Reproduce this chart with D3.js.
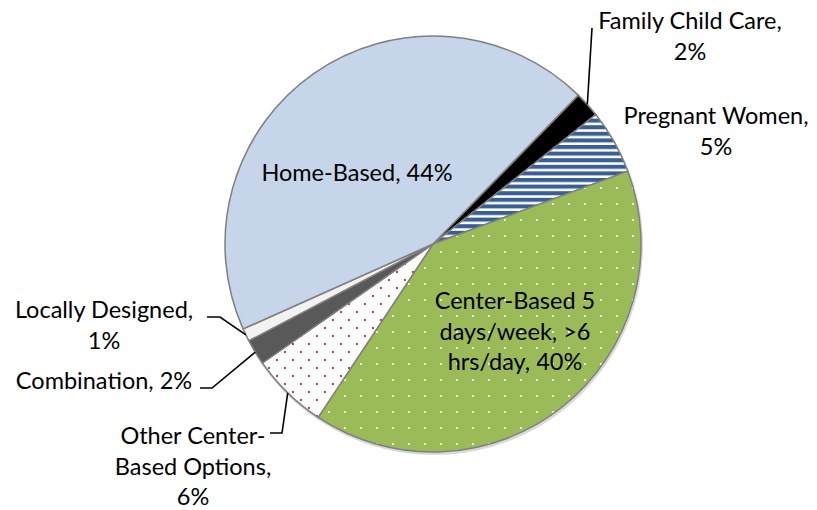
<!DOCTYPE html>
<html>
<head>
<meta charset="utf-8">
<script src="https://cdn.jsdelivr.net/npm/d3@7"></script>
<style>
  body { margin: 0; background: #fff; }
  svg text { font-family: Lato, "Open Sans", sans-serif; fill: #000; }
</style>
</head>
<body>
<div id="chart"></div>
<script>
// data, clockwise from the black slice
var categories = ["Family Child Care", "Pregnant Women", "Center-Based 5 days/week, >6 hrs/day",
  "Other Center-Based Options", "Combination", "Locally Designed", "Home-Based"]
var values = [2, 5, 40, 6, 2, 1, 44]

var width = 817, height = 510
var cx = 433, cy = 244, radius = 208
var startDeg = 44.3

var fills = ["#000000", "url(#stripes)", "url(#greenDots)", "url(#redDots)", "#595959", "#f2f2f2", "#c6d5e9"]

// label lines and placement (layout only)
var labelLayout = [
  { lines: ["Family Child Care,", "2%"], x: 690, y: 21, leader: [[592, 28]] },
  { lines: ["Pregnant Women,", "5%"], x: 716, y: 116 },
  { lines: ["Center-Based 5", "days/week, >6", "hrs/day, 40%"], x: 515, y: 301 },
  { lines: ["Other Center-", "Based Options,", "6%"], x: 193, y: 436, leader: [[282, 433], [270, 433]] },
  { lines: ["Combination, 2%"], x: 104, y: 381, leader: [[212, 388], [200, 388]] },
  { lines: ["Locally Designed,", "1%"], x: 104, y: 310, leader: [[220, 317], [207, 317]] },
  { lines: ["Home-Based, 44%"], x: 357, y: 173 }
]
var lineHeight = 30.5

var svg = d3.select("#chart").append("svg")
  .attr("width", width)
  .attr("height", height)

var defs = svg.append("defs")

var stripes = defs.append("pattern")
  .attr("id", "stripes")
  .attr("patternUnits", "userSpaceOnUse")
  .attr("width", 8).attr("height", 6.6)
stripes.append("rect").attr("width", 8).attr("height", 6.6).attr("fill", "#ffffff")
stripes.append("rect").attr("y", 0).attr("width", 8).attr("height", 3.8).attr("fill", "#3a5f95")
stripes.append("rect").attr("y", 3.8).attr("width", 8).attr("height", 0.8).attr("fill", "#b9c6da")

var green = defs.append("pattern")
  .attr("id", "greenDots")
  .attr("patternUnits", "userSpaceOnUse")
  .attr("width", 16).attr("height", 16)
green.append("rect").attr("width", 16).attr("height", 16).attr("fill", "#9bbb59")
green.append("rect").attr("x", 7).attr("y", 7).attr("width", 2).attr("height", 2).attr("fill", "#e4edd6")

var red = defs.append("pattern")
  .attr("id", "redDots")
  .attr("patternUnits", "userSpaceOnUse")
  .attr("width", 16).attr("height", 16)
red.append("rect").attr("width", 16).attr("height", 16).attr("fill", "#ffffff")
red.append("rect").attr("x", 3).attr("y", 3).attr("width", 2).attr("height", 2).attr("fill", "#b8463f")
red.append("rect").attr("x", 11).attr("y", 11).attr("width", 2).attr("height", 2).attr("fill", "#b8463f")

var pie = d3.pie()
  .sort(null)
  .value(function (d) { return d })
  .startAngle(startDeg * Math.PI / 180)
  .endAngle(startDeg * Math.PI / 180 + 2 * Math.PI)

var arc = d3.arc().innerRadius(0).outerRadius(radius)
var edgeArc = d3.arc().innerRadius(radius).outerRadius(radius)

var arcs = pie(values)

var g = svg.append("g").attr("transform", "translate(" + cx + "," + cy + ")")

// soft shadow under the disc
g.append("circle")
  .attr("cx", 1).attr("cy", 2)
  .attr("r", radius + 1)
  .attr("fill", "#d9d9d9")

g.selectAll(".slice")
  .data(arcs)
  .enter().append("path")
  .attr("class", "slice")
  .attr("d", arc)
  .attr("fill", function (d, i) { return fills[i] })
  .attr("stroke", "#7f7f7f")
  .attr("stroke-width", 1.5)
  .attr("stroke-linejoin", "round")

// leader lines
arcs.forEach(function (d, i) {
  var lay = labelLayout[i]
  if (!lay.leader) return
  var c = edgeArc.centroid(d)
  var pts = [[cx + c[0], cy + c[1]]].concat(lay.leader)
  svg.append("path")
    .attr("d", d3.line()(pts))
    .attr("fill", "none")
    .attr("stroke", "#000")
    .attr("stroke-width", 1.6)
})

// labels
var labels = svg.selectAll(".label")
  .data(labelLayout)
  .enter().append("text")
  .attr("class", "label")
  .attr("text-anchor", "middle")
  .attr("font-size", 23.5)

labels.each(function (d, i) {
  var t = d3.select(this)
  d.lines.forEach(function (line, j) {
    t.append("tspan")
      .attr("x", d.x)
      .attr("y", d.y + j * lineHeight)
      .attr("dy", "0.35em")
      .text(line)
  })
})
</script>
</body>
</html>
